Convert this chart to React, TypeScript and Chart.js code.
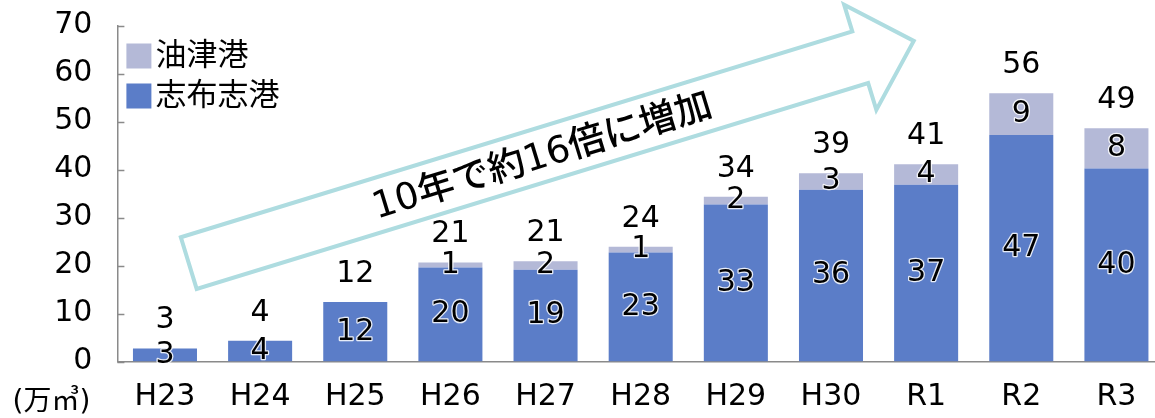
import React, { useEffect, useRef } from 'react';
import { Chart, registerables } from 'chart.js';

Chart.register(...registerables);

const categories = ['H23', 'H24', 'H25', 'H26', 'H27', 'H28', 'H29', 'H30', 'R1', 'R2', 'R3'];
const shibushiValues = [2.7, 4.3, 12.4, 19.6, 19.1, 22.7, 32.7, 35.8, 36.8, 47.2, 40.2];
const aburatsuValues = [0, 0, 0, 1.0, 1.8, 1.2, 1.6, 3.4, 4.3, 8.7, 8.4];
const shibushiName = '志布志港';
const aburatsuName = '油津港';
const yMin = 0;
const yMax = 70;
const yStep = 10;
const unitLabel = '(万㎥)';
const arrowText = '10年で約16倍に増加';
// arrow annotation anchored in data space (category index, value)
const arrowFrom = { x: 0.25, y: 20.5 };
const arrowTo = { x: 7.87, y: 66.8 };

const FONT = '"DejaVu Sans", "Noto Sans CJK JP", sans-serif';
const BLUE = '#5B7DC8';
const LAV = '#B4B9D7';
const TEAL = '#AEDCE0';
const AXIS = '#8A8A8A';

const W = 1164;
const H = 418;

const overlayPlugin = {
  id: 'overlay',
  afterDatasetsDraw(chart: any) {
    const ctx = chart.ctx;
    const xs = chart.scales.x;
    const ys = chart.scales.y;
    const area = chart.chartArea;
    ctx.save();

    // inward tick marks on y axis
    ctx.strokeStyle = AXIS;
    ctx.lineWidth = 1.5;
    for (let v = yMin; v <= yMax; v += yStep) {
      const y = Math.round(ys.getPixelForValue(v)) + 0.5;
      ctx.beginPath();
      ctx.moveTo(area.left, y);
      ctx.lineTo(area.left + 7, y);
      ctx.stroke();
    }

    // arrow annotation
    const p0 = { x: xs.getPixelForValue(arrowFrom.x), y: ys.getPixelForValue(arrowFrom.y) };
    const p1 = { x: xs.getPixelForValue(arrowTo.x), y: ys.getPixelForValue(arrowTo.y) };
    const dx = p1.x - p0.x;
    const dy = p1.y - p0.y;
    const L = Math.hypot(dx, dy);
    const u = { x: dx / L, y: dy / L };
    const n = { x: -u.y, y: u.x };
    const headLen = 56;
    const shaftW = 27;
    const headW = 55;
    const base = { x: p1.x - u.x * headLen, y: p1.y - u.y * headLen };
    const pts = [
      [p0.x - n.x * shaftW, p0.y - n.y * shaftW],
      [base.x - n.x * shaftW, base.y - n.y * shaftW],
      [base.x - n.x * headW, base.y - n.y * headW],
      [p1.x, p1.y],
      [base.x + n.x * headW, base.y + n.y * headW],
      [base.x + n.x * shaftW, base.y + n.y * shaftW],
      [p0.x + n.x * shaftW, p0.y + n.y * shaftW],
    ];
    ctx.beginPath();
    pts.forEach((p, i) => (i === 0 ? ctx.moveTo(p[0], p[1]) : ctx.lineTo(p[0], p[1])));
    ctx.closePath();
    ctx.strokeStyle = TEAL;
    ctx.lineWidth = 4;
    ctx.lineJoin = 'miter';
    ctx.stroke();

    // arrow text
    const t = 0.487;
    const cx = p0.x + dx * t + n.x * 3;
    const cy = p0.y + dy * t + n.y * 3;
    ctx.save();
    ctx.translate(cx, cy);
    ctx.rotate(Math.atan2(dy, dx));
    ctx.font = '500 37px ' + FONT;
    ctx.fillStyle = '#000';
    ctx.textAlign = 'center';
    ctx.textBaseline = 'middle';
    ctx.fillText(arrowText, 0, 0);
    ctx.restore();

    // data labels
    ctx.font = '30px ' + FONT;
    ctx.textAlign = 'center';
    ctx.textBaseline = 'middle';
    ctx.lineJoin = 'round';
    categories.forEach((_, i) => {
      const x = xs.getPixelForValue(i);
      const b = shibushiValues[i];
      const a = aburatsuValues[i];
      const total = b + a;
      const y0 = ys.getPixelForValue(0);
      const yb = ys.getPixelForValue(b);
      const yt = ys.getPixelForValue(total);
      const drawHalo = (txt: string, px: number, py: number) => {
        ctx.strokeStyle = 'rgba(255,255,255,0.85)';
        ctx.lineWidth = 2.5;
        ctx.strokeText(txt, px, py);
        ctx.fillStyle = '#000';
        ctx.fillText(txt, px, py);
      };
      drawHalo(String(Math.round(b)), x, (y0 + yb) / 2);
      if (Math.round(a) > 0) drawHalo(String(Math.round(a)), x, (yb + yt) / 2);
      ctx.fillStyle = '#000';
      ctx.fillText(String(Math.round(total)), x, yt - 28);
    });

    // legend
    const lx = area.left + 9;
    const ly = area.top + 18;
    const items = [
      { name: aburatsuName, color: LAV },
      { name: shibushiName, color: BLUE },
    ];
    ctx.font = '31px ' + FONT;
    ctx.textAlign = 'left';
    ctx.textBaseline = 'middle';
    items.forEach((it, k) => {
      const top = ly + k * 40;
      ctx.fillStyle = it.color;
      ctx.fillRect(lx, top, 25, 25);
      ctx.fillStyle = '#000';
      ctx.fillText(it.name, lx + 29, top + 13);
    });

    // unit label
    ctx.font = '28px ' + FONT;
    ctx.textAlign = 'center';
    ctx.fillText(unitLabel, area.left - 66, area.bottom + 41);

    ctx.restore();
  },
};

export default function App() {
  const ref = useRef<HTMLCanvasElement | null>(null);
  useEffect(() => {
    if (!ref.current) return;
    const chart = new Chart(ref.current, {
      type: 'bar',
      data: {
        labels: categories,
        datasets: [
          { label: shibushiName, data: shibushiValues, backgroundColor: BLUE, stack: 's' },
          { label: aburatsuName, data: aburatsuValues, backgroundColor: LAV, stack: 's' },
        ],
      },
      options: {
        responsive: false,
        animation: false,
        devicePixelRatio: 1,
        layout: { padding: { top: 25.5, left: 0, right: 0, bottom: 0 } },
        plugins: { legend: { display: false }, tooltip: { enabled: false } },
        datasets: { bar: { categoryPercentage: 1, barPercentage: 0.673 } },
        scales: {
          x: {
            stacked: true,
            grid: { display: false, drawTicks: false },
            border: { display: true, color: AXIS, width: 1.5 },
            ticks: { color: '#000', font: { family: FONT, size: 30 }, padding: 18, maxRotation: 0 },
            afterFit: (s: any) => { s.height = 56.5; s.paddingLeft = 0; s.paddingRight = 0; },
          },
          y: {
            stacked: true,
            min: yMin,
            max: yMax,
            grid: { display: false, drawTicks: false },
            border: { display: true, color: AXIS, width: 1.5 },
            ticks: { stepSize: yStep, color: '#000', font: { family: FONT, size: 30 }, padding: 25 },
            afterFit: (s: any) => { s.width = 117.4; s.paddingTop = 0; s.paddingBottom = 0; },
          },
        },
      },
      plugins: [overlayPlugin],
    });
    return () => chart.destroy();
  }, []);
  return (
    <div style={{ position: 'fixed', left: 0, top: 0, width: 1155, height: H, overflow: 'hidden', background: '#fff' }}>
      <canvas ref={ref} width={W} height={H} style={{ width: W, height: H, display: 'block' }} />
    </div>
  );
}
